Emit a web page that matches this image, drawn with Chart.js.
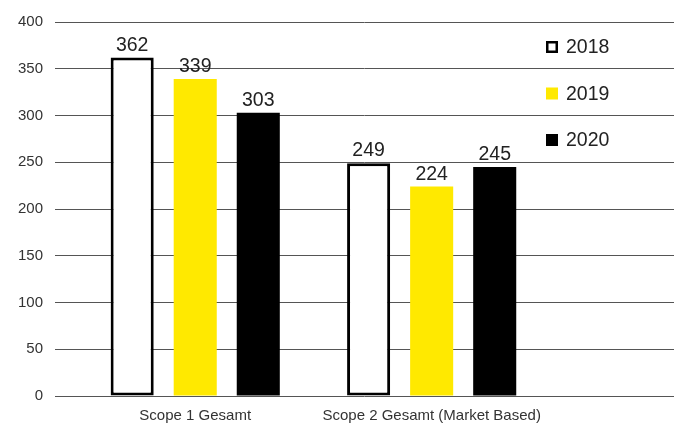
<!DOCTYPE html>
<html>
<head>
<meta charset="utf-8">
<script src="https://cdn.jsdelivr.net/npm/chart.js@4/dist/chart.umd.min.js"></script>
<style>
  html, body { margin: 0; padding: 0; background: #fff; }
  #wrap { width: 674px; height: 424px; position: relative; }
</style>
</head>
<body>
<div id="wrap"><canvas id="c" width="674" height="424"></canvas></div>
<script>
const categories = ['Scope 1 Gesamt', 'Scope 2 Gesamt (Market Based)'];
const seriesNames = ['2018', '2019', '2020'];
const values2018 = [362, 249];
const values2019 = [339, 224];
const values2020 = [303, 245];
const yMin = 0, yMax = 400, yStep = 50;

const FONT = '"Liberation Sans", Arial, Helvetica, sans-serif';
const toPoints = arr => arr.map((v, i) => ({ x: i, y: v }));

const labelPlugin = {
  id: 'valueLabels',
  afterDatasetsDraw(chart) {
    const ctx = chart.ctx;
    ctx.save();
    ctx.font = '19.5px ' + FONT;
    ctx.fillStyle = '#222';
    ctx.textAlign = 'center';
    ctx.textBaseline = 'alphabetic';
    chart.data.datasets.forEach((ds, di) => {
      const meta = chart.getDatasetMeta(di);
      meta.data.forEach((bar, i) => {
        ctx.fillText(String(ds.data[i].y), bar.x, bar.y - 7);
      });
    });
    ctx.restore();
  }
};

const legendPlugin = {
  id: 'insideLegend',
  afterDraw(chart) {
    const ctx = chart.ctx;
    const area = chart.chartArea;
    const x0 = area.right - 128;
    const y0 = area.top + 25;
    const rowH = 46.5;
    ctx.save();
    ctx.font = '19.5px ' + FONT;
    ctx.textAlign = 'left';
    ctx.textBaseline = 'middle';
    chart.data.datasets.forEach((ds, i) => {
      const cy = y0 + i * rowH;
      ctx.fillStyle = ds.backgroundColor;
      ctx.fillRect(x0, cy - 6, 12, 12);
      if (ds.borderWidth) {
        ctx.strokeStyle = ds.borderColor;
        ctx.lineWidth = 2.5;
        ctx.strokeRect(x0 + 1.25, cy - 6 + 1.25, 9.5, 9.5);
      }
      ctx.fillStyle = '#222';
      ctx.fillText(ds.label, x0 + 20, cy + 1);
    });
    ctx.restore();
  }
};

new Chart(document.getElementById('c'), {
  type: 'bar',
  data: {
    datasets: [
      { label: seriesNames[0], data: toPoints(values2018), backgroundColor: '#ffffff', borderColor: '#000000', borderWidth: 3, borderSkipped: false },
      { label: seriesNames[1], data: toPoints(values2019), backgroundColor: '#FFE900', borderWidth: 0 },
      { label: seriesNames[2], data: toPoints(values2020), backgroundColor: '#000000', borderWidth: 0 }
    ]
  },
  options: {
    responsive: false,
    animation: false,
    devicePixelRatio: 1,
    categoryPercentage: 0.8,
    barPercentage: 0.683,
    layout: { padding: { left: 6, right: 0, top: 22, bottom: 0 } },
    plugins: {
      legend: { display: false },
      tooltip: { enabled: false },
      title: { display: false }
    },
    scales: {
      x: {
        type: 'linear',
        min: -0.593,
        max: 2.025,
        offset: false,
        grid: { display: false, drawTicks: false },
        border: { display: false },
        afterBuildTicks: axis => { axis.ticks = categories.map((_, i) => ({ value: i })); },
        afterFit: axis => { axis.height = 28; },
        ticks: {
          padding: 11,
          autoSkip: false,
          maxRotation: 0,
          color: '#333',
          font: { family: FONT, size: 15 },
          callback: v => categories[v] !== undefined ? categories[v] : ''
        }
      },
      y: {
        min: yMin,
        max: yMax,
        grid: { color: '#555', lineWidth: 1, drawTicks: false },
        border: { display: false },
        ticks: {
          stepSize: yStep,
          padding: 12,
          color: '#333',
          font: { family: FONT, size: 15 }
        }
      }
    }
  },
  plugins: [labelPlugin, legendPlugin]
});
</script>
</body>
</html>
